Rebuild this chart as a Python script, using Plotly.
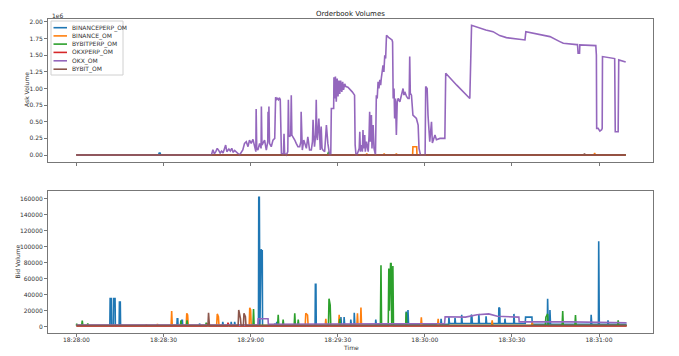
import pandas as pd
import plotly.graph_objects as go

# ---------------- DATA (seconds after 18:28:00) ----------------
series_names = ["BINANCEPERP_OM", "BINANCE_OM", "BYBITPERP_OM", "OKXPERP_OM", "OKX_OM", "BYBIT_OM"]
series_colors = ["#1f77b4", "#ff7f0e", "#2ca02c", "#d62728", "#9467bd", "#8c564b"]

# --- Ask volumes (units of 1e6) ---
okx_ask_t = [0, 20, 40, 46.5, 47.0, 47.5, 48.0, 48.5, 49.0, 49.5, 50.0, 50.5, 51.4, 51.8, 52.5, 53.0, 53.5, 54.0,
             54.5, 55.0, 55.5, 56.2, 57.3, 57.9, 58.5, 59.1, 59.6, 60.2, 60.8, 61.4, 61.8, 61.9, 62.1, 62.5, 63.1,
             63.6, 63.7, 63.9, 64.2, 64.8, 65.4, 65.9, 66.0, 66.2, 66.3, 66.5, 67.1, 67.7, 68.3, 68.6, 69.0, 69.3,
             69.6, 70.0, 70.2, 70.6, 71.3, 71.5, 71.7, 72.3, 72.8, 73.0, 73.2, 73.4, 73.8, 74.0, 74.2, 74.6, 75.2,
             75.7, 76.3, 76.9, 77.3, 77.4, 77.6, 77.8, 78.3, 78.6, 79.2, 79.7, 80.3, 80.9, 81.3, 81.5, 81.7, 82.0,
             82.4, 82.6, 82.8, 83.0, 83.5, 83.7, 84.0, 84.3, 84.6, 84.9, 85.5, 86.1, 86.4, 86.6, 87.2, 87.6, 87.8,
             88.6, 88.7, 89.0, 89.2, 89.5, 89.8, 90.1, 90.4, 90.7, 91.0, 91.4, 91.7, 92.0, 92.4, 92.8, 93.5, 94.5,
             95.0, 95.8, 96.0, 96.3, 96.6, 97.0, 97.4, 97.6, 97.8, 98.2, 98.5, 98.7, 98.9, 99.3, 99.5, 99.9, 100.2,
             100.5, 100.8, 101.0, 101.2, 101.6, 101.8, 102.2, 102.5, 102.8, 103.0, 103.3, 103.6, 103.9, 104.2,
             104.5, 104.8, 105.0, 105.3, 105.6, 105.9, 106.2, 106.5, 106.8, 107.5, 108.2, 108.7, 108.9, 109.1,
             109.4, 109.6, 109.9, 110.2, 110.5, 110.8, 111.4, 111.9, 112.5, 112.8, 113.1, 113.7, 114.2, 114.6,
             114.8, 115.0, 115.4, 115.9, 116.5, 117.1, 117.7, 118.0, 118.5, 119.8, 120.1, 120.3, 120.8, 121.1,
             121.7, 122.3, 122.6, 123.1, 123.5, 124.0, 125.2, 126.9, 127.2, 131.0, 135.5, 136.1, 139.0, 141.0,
             143.5, 145.8, 148.1, 152.7, 154.5, 154.8, 158.0, 161.9, 163.1, 166.5, 167.7, 172.3, 172.6, 172.8,
             173.3, 173.4, 178.6, 178.9, 179.1, 179.2, 179.7, 180.3, 180.9, 181.1, 181.2, 185.4, 185.6, 186.6,
             186.8, 189.2]
okx_ask_v = [0.0, 0.0, 0.0, 0.0, 0.08, 0.02, 0.05, 0.1, 0.07, 0.03, 0.06, 0.03, 0.15, 0.05, 0.09, 0.06, 0.1, 0.04,
             0.07, 0.05, 0.02, 0.0, 0.075, 0.175, 0.20, 0.125, 0.225, 0.175, 0.235, 0.125, 0.05, 0.69, 0.1, 0.075,
             0.175, 0.1, 0.73, 0.15, 0.175, 0.225, 0.075, 0.2, 0.65, 0.3, 0.73, 0.175, 0.125, 0.225, 0.25, 0.87,
             0.84, 0.86, 0.83, 0.85, 0.835, 0.025, 0.0, 0.32, 0.025, 0.0, 0.05, 0.83, 0.3, 0.275, 0.3, 0.90, 0.3,
             0.275, 0.225, 0.175, 0.125, 0.125, 0.2, 0.65, 0.2, 0.075, 0.225, 0.175, 0.10, 0.275, 0.075, 0.075,
             0.2, 0.53, 0.2, 0.125, 0.3, 0.83, 0.3, 0.225, 0.55, 0.2, 0.075, 0.43, 0.1, 0.075, 0.05, 0.45, 0.2,
             0.175, 0.0, 0.0, 0.70, 0.70, 1.17, 0.85, 1.18, 0.80, 1.15, 0.88, 1.12, 0.92, 1.12, 0.95, 1.10, 0.98,
             1.07, 1.03, 1.02, 0.98, 0.95, 0.90, 0.15, 0.0, 0.0, 0.05, 0.1, 0.35, 0.05, 0.15, 0.05, 0.375, 0.1,
             0.30, 0.05, 0.20, 0.1, 0.05, 0.3, 0.65, 0.2, 0.60, 0.1, 0.45, 0.1, 0.0, 0.0, 0.90, 0.85, 1.10, 1.0,
             1.13, 1.05, 1.15, 1.3, 1.35, 1.25, 1.50, 1.45, 1.80, 1.77, 1.75, 1.73, 1.70, 0.85, 1.0, 0.55, 0.85,
             0.30, 0.8, 0.85, 0.80, 0.88, 1.00, 0.9, 0.95, 0.88, 0.85, 0.85, 1.48, 0.93, 0.90, 0.60, 0.58, 0.55,
             0.45, 0.10, 0.0, 0.0, 0.0, 1.03, 1.00, 0.60, 0.20, 0.50, 0.18, 0.25, 0.3, 0.23, 0.25, 0.25, 1.23,
             1.05, 0.85, 1.95, 1.905, 1.88, 1.855, 1.795, 1.765, 1.745, 1.73, 1.855, 1.83, 1.80, 1.78, 1.705,
             1.68, 1.66, 1.66, 1.53, 1.53, 1.655, 1.645, 1.645, 1.50, 0.40, 0.40, 0.36, 0.38, 0.40, 1.48, 1.45,
             0.35, 0.35, 1.43, 1.40]

binanceperp_ask_t = [0, 28.3, 28.5, 28.8, 29.0, 60, 120, 189.2]
binanceperp_ask_v = [0.003, 0.003, 0.03, 0.03, 0.003, 0.004, 0.003, 0.003]
binance_ask_t = [0, 99.8, 100.0, 100.2, 105.8, 106.0, 106.2, 110.0, 110.2, 110.4, 115.8, 115.9, 117.2, 117.3,
                 150, 178.3, 178.5, 178.7, 189.2]
binance_ask_v = [0.002, 0.002, 0.02, 0.002, 0.002, 0.02, 0.002, 0.002, 0.02, 0.002, 0.002, 0.125, 0.125, 0.002,
                 0.002, 0.002, 0.03, 0.002, 0.002]
bybitperp_ask_t = [0, 86.5, 86.8, 87.2, 87.6, 120, 189.2]
bybitperp_ask_v = [0.002, 0.002, 0.04, 0.03, 0.002, 0.002, 0.002]
okxperp_ask_t = [0, 60, 120, 189.2]
okxperp_ask_v = [0.001, 0.001, 0.001, 0.001]
bybit_ask_t = [0, 60, 120, 174.8, 175.0, 175.2, 189.2]
bybit_ask_v = [0.0, 0.0, 0.0, 0.0, 0.02, 0.0, 0.0]

# --- Bid volumes ---
binanceperp_bid_t = [0, 5, 11.5, 11.6, 12.0, 12.1, 12.7, 12.8, 13.3, 13.4, 14.7, 14.8, 15.1, 15.2, 25, 34.6,
                     34.7, 34.9, 35.0, 36.2, 36.3, 36.5, 36.6, 42.3, 42.4, 42.6, 50.3, 50.4, 50.6, 53.2, 53.3,
                     53.5, 54.4, 54.5, 54.7, 62.7, 62.8, 63.0, 63.2, 63.4, 63.6, 63.8, 64.0, 64.1, 66, 68.2, 68.3,
                     68.5, 68.9, 69.0, 69.2, 75, 82.2, 82.3, 82.5, 82.6, 88, 91.0, 91.1, 91.3, 92.1, 92.2, 92.4,
                     94.4, 94.5, 94.7, 95.6, 95.7, 95.9, 100, 103.0, 103.1, 103.3, 113.5, 113.6, 113.8, 114.1,
                     114.2, 114.4, 120, 125.5, 125.6, 125.8, 128.2, 128.3, 128.5, 130.3, 130.4, 130.6, 132.6,
                     132.7, 132.9, 135.9, 136.0, 136.2, 136.4, 138.5, 138.6, 138.8, 141.0, 141.1, 141.3, 145.4,
                     145.5, 145.8, 145.9, 147.5, 147.6, 147.8, 150.6, 150.7, 150.9, 154.6, 154.7, 156.9, 157.0,
                     162.2, 162.3, 162.5, 163.0, 163.1, 163.3, 170, 177.2, 177.3, 177.5, 179.8, 179.9, 180.1,
                     183.0, 183.1, 183.3, 189.5]
binanceperp_bid_v = [1500, 1500, 1500, 35400, 35400, 1500, 1500, 35400, 35400, 1500, 1500, 31000, 31000, 1500,
                     1500, 1500, 10000, 10000, 1500, 1500, 8000, 8000, 1500, 1500, 4000, 1500, 1500, 6000, 1500,
                     1500, 6000, 1500, 1500, 6000, 1500, 1500, 162000, 162000, 1500, 97000, 97000, 95000, 95000,
                     1500, 1500, 1500, 4000, 1500, 1500, 6000, 1500, 2000, 2000, 53000, 53000, 2000, 2000, 2000,
                     12000, 2000, 2000, 12000, 2000, 2000, 9000, 2000, 2000, 17500, 2000, 2500, 2500, 9000, 2500,
                     2500, 19000, 3000, 3000, 21000, 3000, 3000, 3000, 10000, 3000, 3000, 12000, 4000, 4000,
                     11000, 4000, 4000, 15000, 4000, 4000, 15000, 14000, 4000, 4000, 16000, 4000, 4000, 13000,
                     4000, 4000, 24000, 23000, 4000, 4000, 10000, 4000, 4000, 16000, 4000, 4000, 12000, 12000,
                     3000, 3000, 35000, 3000, 3000, 21000, 3000, 3000, 3000, 15000, 3000, 3000, 107000, 3000,
                     3000, 8000, 3000, 3000]

binance_bid_t = [0, 10, 23.9, 24.1, 24.3, 27.7, 27.9, 28.1, 32.6, 32.8, 33.0, 37.8, 38.0, 38.3, 38.5, 48.3, 48.5,
                 48.9, 49.1, 59.5, 59.7, 60.0, 60.2, 70, 78.8, 79.0, 79.6, 79.8, 85.7, 85.9, 86.1, 90.3, 90.5,
                 90.7, 96.6, 96.8, 97.0, 97.8, 98.0, 98.2, 110, 118.6, 118.8, 119.0, 124.4, 124.6, 124.8, 143.0,
                 143.2, 143.4, 156.8, 157.0, 157.2, 170, 189.5]
binance_bid_v = [1500, 1500, 1500, 3000, 1500, 1500, 3500, 1500, 1500, 19600, 1500, 1500, 16700, 14600, 1500,
                 1500, 16000, 12500, 1500, 1500, 23800, 21000, 1500, 1500, 1500, 16700, 14600, 1500, 1500, 10000,
                 1500, 1500, 15000, 1500, 1500, 16700, 1500, 1500, 24000, 1500, 1500, 1500, 11700, 1500, 1500,
                 10000, 1500, 1500, 8000, 1500, 1500, 6000, 1500, 1500, 1500]

bybitperp_bid_t = [0, 0.1, 0.2, 0.4, 1.8, 2.0, 2.2, 3.7, 3.9, 4.1, 20, 35.8, 36.0, 36.2, 37.9, 38.1, 38.3, 44.5,
                   44.7, 44.9, 60.8, 61.0, 61.2, 69.3, 69.5, 69.7, 71.0, 71.2, 71.4, 75.0, 75.2, 75.4, 76.2, 76.4,
                   76.6, 86.8, 87.0, 87.4, 87.6, 90.5, 90.7, 90.9, 104.7, 104.9, 105.1, 107.4, 107.6, 107.8, 108.2,
                   108.4, 108.6, 108.8, 109.0, 109.2, 113.4, 113.6, 113.8, 130, 161.5, 161.7, 162.3, 162.5, 167.3,
                   167.5, 167.7, 171.7, 171.9, 172.1, 186.4, 186.6, 186.8, 189.5]
bybitperp_bid_v = [1500, 4000, 1500, 1500, 1500, 7500, 1500, 1500, 4000, 1500, 1500, 1500, 8000, 1500, 1500,
                   8000, 1500, 1500, 5000, 1500, 1500, 22000, 1500, 1500, 15000, 1500, 1500, 9000, 1500, 1500,
                   16700, 1500, 1500, 9000, 1500, 1500, 35000, 27000, 1500, 1500, 10000, 1500, 1500, 77000, 1500,
                   1500, 73000, 20000, 79000, 79000, 1500, 76000, 76000, 1500, 1500, 18000, 1500, 1500, 1500,
                   12000, 16000, 1500, 1500, 19600, 1500, 1500, 14600, 1500, 1500, 8000, 1500, 1500]

okxperp_bid_t = [0, 40, 45.0, 45.2, 45.6, 50, 52.0, 52.2, 52.6, 70, 100, 140, 189.5]
okxperp_bid_v = [1000, 1000, 1000, 4000, 1000, 1000, 1000, 5000, 1000, 1000, 1000, 1000, 1000]

okx_bid_t = [0, 30, 60, 62.5, 62.6, 66.0, 66.1, 90, 120, 126.8, 127.0, 134.0, 138.0, 142.0, 145.0, 150.0, 152.4,
             152.5, 170, 189.5]
okx_bid_v = [2000, 2000, 2000, 2000, 10000, 10000, 3000, 3500, 4000, 4000, 12500, 12000, 15000, 16000, 13000,
             12000, 12000, 6000, 6000, 5000]

bybit_bid_t = [0, 30, 45.3, 45.5, 45.8, 55.7, 55.9, 56.5, 56.7, 57.5, 57.7, 58.2, 58.4, 80, 120, 189.5]
bybit_bid_v = [1500, 1500, 1500, 17500, 1500, 1500, 21000, 10000, 1500, 1500, 16700, 12500, 1500, 1500, 1500,
               1500]

x_tick_seconds = [0, 30, 60, 90, 120, 150, 180]
ask_ticks = [0.0, 0.25, 0.5, 0.75, 1.0, 1.25, 1.5, 1.75, 2.0]
bid_ticks = [0, 20000, 40000, 60000, 80000, 100000, 120000, 140000, 160000]

# ---------------- FIGURE ----------------
W, H = 679, 356
ML, MR, MT, MB = 48, 26, 19, 23
PW, PH = W - ML - MR, H - MT - MB
base = pd.Timestamp("2024-01-01 18:28:00")


def tt(secs):
    return base + pd.to_timedelta(secs, unit="s")


def px(xp):
    return (xp - ML) / PW


def py(yp):
    return (H - MB - yp) / PH


ask_data = [(binanceperp_ask_t, binanceperp_ask_v), (binance_ask_t, binance_ask_v),
            (bybitperp_ask_t, bybitperp_ask_v), (okxperp_ask_t, okxperp_ask_v),
            (okx_ask_t, okx_ask_v), (bybit_ask_t, bybit_ask_v)]
bid_data = [(binanceperp_bid_t, binanceperp_bid_v), (binance_bid_t, binance_bid_v),
            (bybitperp_bid_t, bybitperp_bid_v), (okxperp_bid_t, okxperp_bid_v),
            (okx_bid_t, okx_bid_v), (bybit_bid_t, bybit_bid_v)]

LW = 1.6
fig = go.Figure()
for name, col, (t, v) in zip(series_names, series_colors, ask_data):
    fig.add_trace(go.Scatter(x=tt(t), y=v, mode="lines", name=name, showlegend=False,
                             line=dict(color=col, width=LW), xaxis="x", yaxis="y"))
for name, col, (t, v) in zip(series_names, series_colors, bid_data):
    fig.add_trace(go.Scatter(x=tt(t), y=v, mode="lines", name=name, showlegend=False,
                             line=dict(color=col, width=LW), xaxis="x2", yaxis="y2"))

xr = [tt(-9.8), tt(198.6)]
tickvals = list(tt(x_tick_seconds))
axis_line = "#777"
tick_font = dict(size=6, color="#333")
common_x = dict(range=xr, type="date", tickvals=tickvals, showline=True, mirror=True, linecolor=axis_line,
                linewidth=1, ticks="outside", ticklen=3, tickcolor=axis_line, showgrid=False, zeroline=False,
                tickfont=tick_font)
common_y = dict(showline=True, mirror=True, linecolor=axis_line, ticks="outside", ticklen=3,
                tickcolor=axis_line, showgrid=False, zeroline=False, tickfont=tick_font)
fig.update_layout(
    width=W, height=H,
    margin=dict(l=ML, r=MR, t=MT, b=MB),
    paper_bgcolor="white", plot_bgcolor="white",
    font=dict(family="DejaVu Sans", size=6, color="#333"),
    xaxis=dict(common_x, anchor="y", showticklabels=False),
    xaxis2=dict(common_x, anchor="y2", tickformat="%H:%M:%S", ticklabelstandoff=-2),
    yaxis=dict(common_y, domain=[py(162), 1.0], range=[-0.105, 2.045], tickvals=ask_ticks, tickformat=".2f"),
    yaxis2=dict(common_y, domain=[0.0, py(191)], range=[-7900, 170000], tickvals=bid_ticks, tickformat="d"),
    showlegend=False,
)

# custom compact legend (matplotlib style)
shapes = [dict(type="rect", xref="paper", yref="paper", x0=px(51), x1=px(123), y0=py(75), y1=py(21),
               line=dict(color="#d0d0d0", width=1), fillcolor="rgba(255,255,255,0.85)", layer="above")]
row_y = [27.7, 35.9, 44.1, 52.4, 60.8, 69.2]
annots = []
for name, col, ry in zip(series_names, series_colors, row_y):
    shapes.append(dict(type="line", xref="paper", yref="paper", x0=px(53.5), x1=px(67), y0=py(ry), y1=py(ry),
                       line=dict(color=col, width=LW), layer="above"))
    annots.append(dict(text=name, xref="paper", yref="paper", x=px(70), y=py(ry), xanchor="left",
                       yanchor="middle", showarrow=False, font=dict(size=6, color="#333")))
fig.update_layout(shapes=shapes, annotations=annots)

fig.add_annotation(text="Orderbook Volumes", xref="paper", yref="paper", x=0.5, y=py(13.5), yanchor="middle",
                   showarrow=False, font=dict(size=7, color="#222"))
fig.add_annotation(text="1e6", xref="paper", yref="paper", x=px(50), y=py(15.5), xanchor="left",
                   yanchor="middle", showarrow=False, font=dict(size=6, color="#333"))
fig.add_annotation(text="Ask Volume", xref="paper", yref="paper", x=px(27), y=py(90), xanchor="center",
                   yanchor="middle", textangle=-90, showarrow=False, font=dict(size=6, color="#333"))
fig.add_annotation(text="Bid Volume", xref="paper", yref="paper", x=px(16.5), y=py(262), xanchor="center",
                   yanchor="middle", textangle=-90, showarrow=False, font=dict(size=6, color="#333"))
fig.add_annotation(text="Time", xref="paper", yref="paper", x=0.5, y=py(347.5), xanchor="center",
                   yanchor="middle", showarrow=False, font=dict(size=6, color="#333"))

fig.write_html("out.html", config={"displayModeBar": False},
               post_script="document.body.style.margin='0';document.body.style.padding='0';"
                           "document.body.style.overflow='hidden';")
